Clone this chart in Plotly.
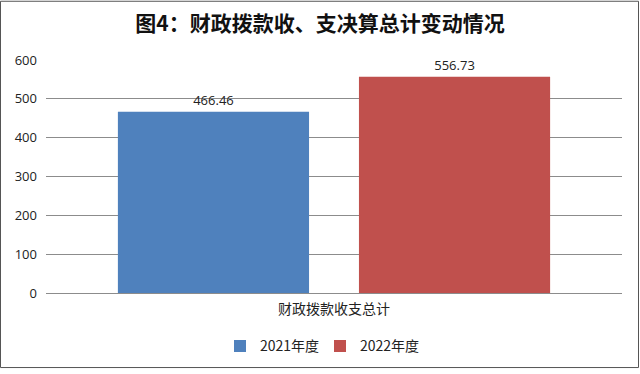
import plotly.graph_objects as go

categories = ["财政拨款收支总计"]
series_names = ["2021年度", "2022年度"]
values_2021 = [466.46]
values_2022 = [556.73]
colors = ["#4F81BD", "#C0504D"]
y_ticks = [0, 100, 200, 300, 400, 500, 600]

font_cn = "Noto Sans CJK SC"

fig = go.Figure()
for name, vals, col in zip(series_names, [values_2021, values_2022], colors):
    fig.add_trace(go.Bar(
        x=categories, y=vals, name=name,
        marker=dict(color=col, line=dict(width=0)),
        text=[f"{v:.2f}" for v in vals], textposition="outside",
        textfont=dict(size=13, color="#222", family="Open Sans"),
        cliponaxis=False,
    ))

W, H = 640, 374
L, R, T, B = 46, 18, 60, 78
pw, ph = W - L - R, H - T - B

fig.update_layout(
    width=W, height=H,
    margin=dict(l=L, r=R, t=T, b=B),
    paper_bgcolor="white", plot_bgcolor="white",
    barmode="group", bargap=0.163, bargroupgap=0.207,
    title=dict(text="<b>图4：财政拨款收、支决算总计变动情况</b>", x=0.5, xanchor="center",
               y=1 - 24 / H, yanchor="middle",
               font=dict(size=21, color="#111", family=font_cn)),
    showlegend=True,
    legend=dict(orientation="h", x=(320 - L) / pw, xanchor="center",
                y=(H - B - 350) / ph, yanchor="middle",
                font=dict(size=14, color="#222", family=font_cn),
                entrywidth=55, entrywidthmode="pixels", tracegroupgap=0),
    xaxis=dict(showgrid=False, showline=False, ticks="", ticklabelstandoff=6,
               automargin=False,
               tickfont=dict(size=14, color="#222", family=font_cn)),
    yaxis=dict(range=[0, 600], tickvals=y_ticks, showgrid=True, gridcolor="#8C8C8C",
               gridwidth=1, zeroline=True, zerolinecolor="#8C8C8C", zerolinewidth=1,
               showline=False, ticks="", ticklabelstandoff=8, automargin=False,
               tickfont=dict(size=13, color="#222", family="Open Sans")),
)

# outer border of the chart frame
fig.add_shape(type="rect", xref="paper", yref="paper",
              x0=(0.5 - L) / pw, x1=(638.5 - L) / pw,
              y0=(H - B - 371.5) / ph, y1=(H - B - 0.5) / ph,
              line=dict(color="#555", width=1), fillcolor="rgba(0,0,0,0)", layer="above")

fig.write_html("out.html", config={"displayModeBar": False},
               post_script="document.body.style.margin='0';document.body.style.overflow='hidden';")
